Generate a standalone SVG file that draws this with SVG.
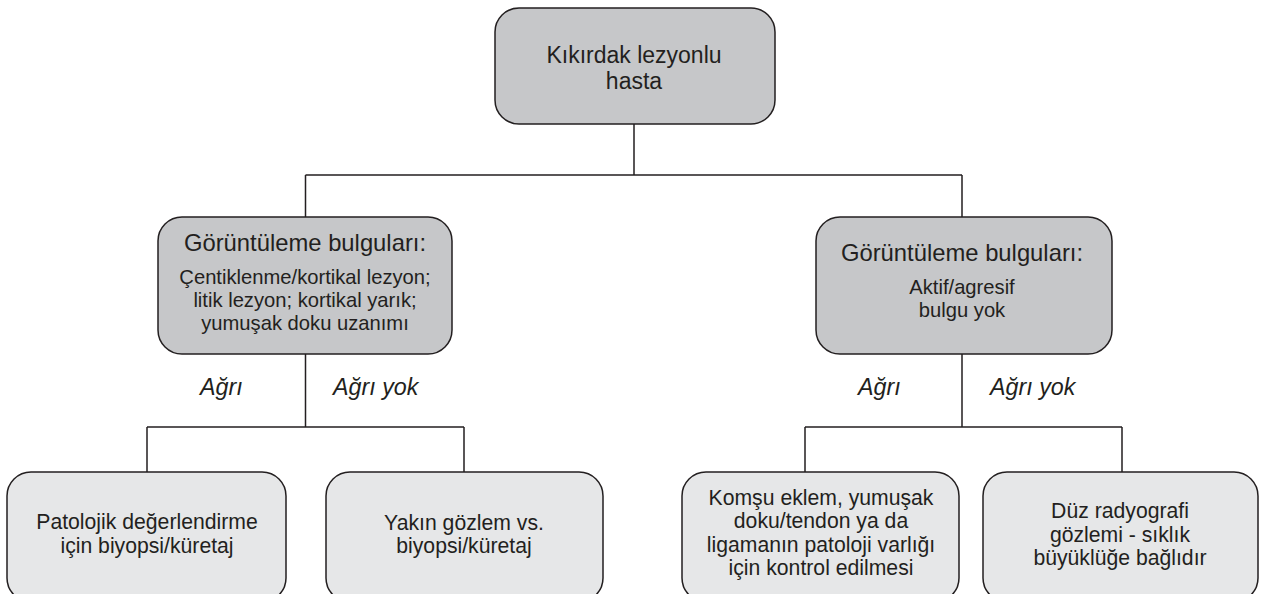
<svg xmlns="http://www.w3.org/2000/svg" width="1261" height="594" viewBox="0 0 1261 594">
<style>
.box{stroke:#231f20;stroke-width:1.5}
.dark{fill:#c6c7c9}
.light{fill:#e6e7e8}
.conn{stroke:#231f20;stroke-width:1.5;fill:none}
text{font-family:"Liberation Sans",Arial,sans-serif;fill:#231f20;text-anchor:middle}
.t1{font-size:23px}
.h{font-size:23.8px}
.b{font-size:20.2px}
.c{font-size:21.2px}
.lbl{font-size:23.3px;font-style:italic;text-anchor:start}
</style>
<rect width="1261" height="594" fill="#ffffff"/>
<g id="connectors">
<path class="conn" d="M634,124 V175 M305.5,175 H962 M305.5,175 V217 M962,175 V217"/>
<path class="conn" d="M305.5,354 V427 M147,427 H464 M147,427 V472 M464,427 V472"/>
<path class="conn" d="M962,354 V427 M805,427 H1122 M805,427 V472 M1122,427 V472"/>
<text class="lbl" x="200" y="395">Ağrı</text>
<text class="lbl" x="333" y="395">Ağrı yok</text>
<text class="lbl" x="858" y="395">Ağrı</text>
<text class="lbl" x="990" y="395">Ağrı yok</text>
</g>
<g id="root">
<rect class="box dark" x="495" y="8" width="280" height="116" rx="24"/>
<text class="t1" x="634" y="63">Kıkırdak lezyonlu</text>
<text class="t1" x="634" y="89">hasta</text>
</g>
<g id="imaging-left">
<rect class="box dark" x="158" y="217" width="294" height="137" rx="24"/>
<text class="h" x="305" y="251">Görüntüleme bulguları:</text>
<text class="b" x="305" y="284">Çentiklenme/kortikal lezyon;</text>
<text class="b" x="305" y="307">litik lezyon; kortikal yarık;</text>
<text class="b" x="305" y="330">yumuşak doku uzanımı</text>
</g>
<g id="imaging-right">
<rect class="box dark" x="816" y="217" width="296" height="137" rx="24"/>
<text class="h" x="962" y="261">Görüntüleme bulguları:</text>
<text class="b" x="962" y="294">Aktif/agresif</text>
<text class="b" x="962" y="317">bulgu yok</text>
</g>
<g id="biopsy">
<rect class="box light" x="7" y="472" width="279" height="130" rx="24"/>
<text class="c" x="147" y="529">Patolojik değerlendirme</text>
<text class="c" x="147" y="553">için biyopsi/küretaj</text>
</g>
<g id="observation">
<rect class="box light" x="326" y="472" width="277" height="130" rx="24"/>
<text class="c" x="464" y="530">Yakın gözlem vs.</text>
<text class="c" x="464" y="553">biyopsi/küretaj</text>
</g>
<g id="check">
<rect class="box light" x="682" y="472" width="277" height="130" rx="24"/>
<text class="c" x="821" y="505">Komşu eklem, yumuşak</text>
<text class="c" x="821" y="528">doku/tendon ya da</text>
<text class="c" x="821" y="552">ligamanın patoloji varlığı</text>
<text class="c" x="821" y="575">için kontrol edilmesi</text>
</g>
<g id="radiography">
<rect class="box light" x="983" y="472" width="275" height="130" rx="24"/>
<text class="c" x="1120" y="518">Düz radyografi</text>
<text class="c" x="1120" y="542">gözlemi - sıklık</text>
<text class="c" x="1120" y="565">büyüklüğe bağlıdır</text>
</g>
</svg>
